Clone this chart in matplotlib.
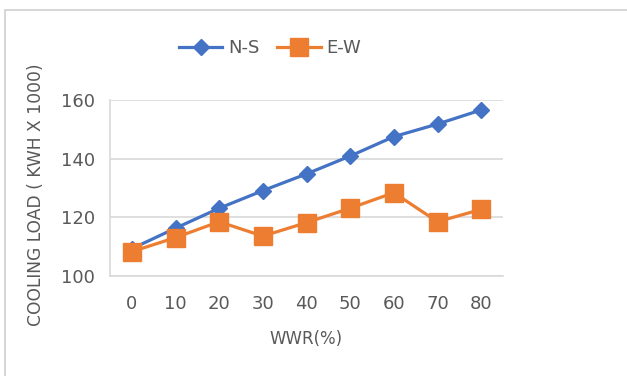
import matplotlib.pyplot as plt
from matplotlib.patches import Rectangle

# WWR categories and cooling load values (kWh x 1000)
wwr = ['0', '10', '20', '30', '40', '50', '60', '70', '80']
ns_load = [109.3, 116.3, 123.1, 129.1, 134.8, 140.9, 147.5, 151.8, 156.6]
ew_load = [108.3, 113.1, 118.5, 113.6, 118.2, 123.1, 128.4, 118.5, 122.7]

text_col = '#595959'
grid_col = '#D9D9D9'

fig = plt.figure(figsize=(6.27, 3.76), dpi=100)
fig.patch.set_facecolor('white')

# outer chart border (cropped at right and bottom)
fig.patches.append(Rectangle((5 / 627, -0.05), 1.2, 1 - 10 / 376 + 0.05,
                             transform=fig.transFigure, fill=False,
                             edgecolor='#D0D0D0', linewidth=1.2))

ax = fig.add_axes([110 / 627, 1 - 276 / 376, 393 / 627, 176 / 376])
x = range(len(wwr))
ax.plot(x, ns_load, color='#4472C4', lw=2.3, marker='D', ms=8,
        label='N-S', zorder=3)
ax.plot(x, ew_load, color='#ED7D31', lw=2.3, marker='s', ms=13,
        label='E-W', zorder=4)

ax.set_xlim(-0.5, len(wwr) - 0.5)
ax.set_ylim(100, 160)
ax.set_yticks([100, 120, 140, 160])
ax.set_xticks(list(x))
ax.set_xticklabels(wwr)
ax.tick_params(length=0, labelsize=13, colors=text_col)
ax.tick_params(axis='x', pad=14)
ax.tick_params(axis='y', pad=11)
ax.grid(axis='y', color=grid_col, lw=1.2)
ax.set_axisbelow(True)

for side in ['top', 'right']:
    ax.spines[side].set_visible(False)
for side in ['left', 'bottom']:
    ax.spines[side].set_color(grid_col)
    ax.spines[side].set_linewidth(1.2)

ax.set_xlabel('WWR(%)', fontsize=12, color=text_col, labelpad=12)
ax.set_ylabel('COOLING LOAD ( KWH X 1000)', fontsize=12.3, color=text_col)
ax.yaxis.set_label_coords(-0.165, 0.46)

leg = fig.legend(loc='center', bbox_to_anchor=(270 / 627, 1 - 48 / 376),
                 ncol=2, frameon=False, fontsize=13, handlelength=2.4,
                 columnspacing=1.0, handletextpad=0.3, markerscale=1.0)
for t in leg.get_texts():
    t.set_color(text_col)

fig.savefig('out.png', dpi=100)
